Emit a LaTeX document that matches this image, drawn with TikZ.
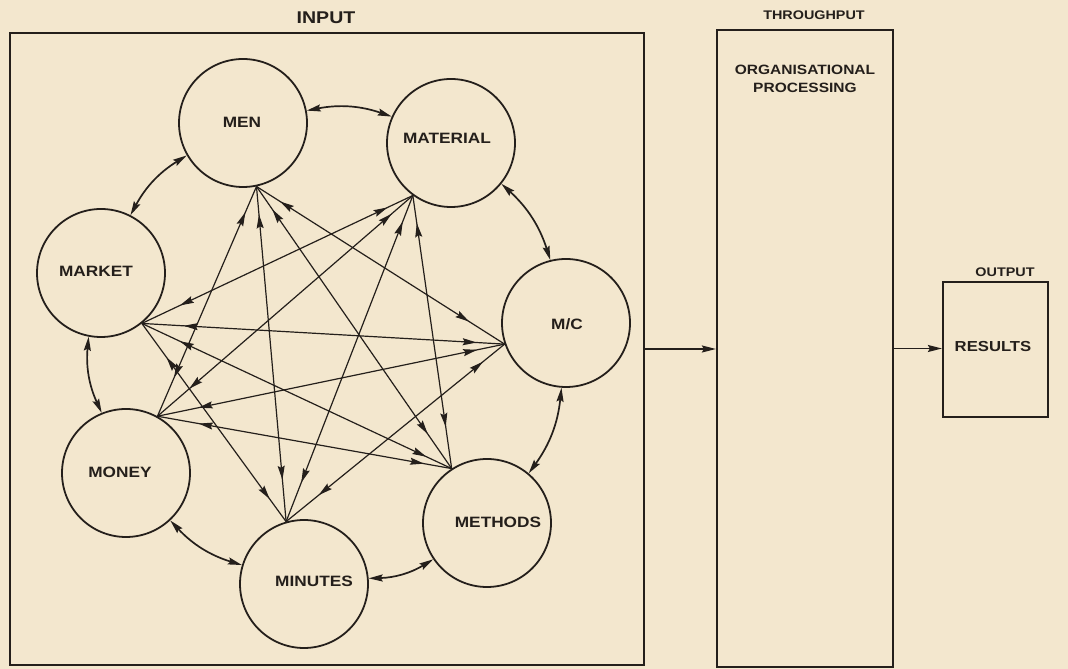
\documentclass[tikz,border=0pt]{standalone}
\usepackage{fontspec}
\newfontfamily\lett{Liberation Sans}[FakeStretch=1.15]
\usetikzlibrary{arrows.meta,decorations.markings}
\definecolor{paper}{RGB}{243,231,206}
\definecolor{ink}{RGB}{36,31,27}
\begin{document}
\begin{tikzpicture}[x=1pt,y=1pt,
  >={Stealth[length=14pt,width=7pt,inset=2pt]},
  circ/.style={circle,draw=ink,line width=1.8pt,minimum size=128pt,inner sep=0pt},
  lbl/.style={font=\lett\bfseries\fontsize{15}{16}\selectfont,text=ink,inner sep=0pt},
  hlbl/.style={font=\lett\bfseries\fontsize{17}{18}\selectfont,text=ink,inner sep=0pt},
  blbl/.style={font=\lett\bfseries\fontsize{12.5}{13}\selectfont,text=ink,inner sep=0pt},
  plbl/.style={font=\lett\bfseries\fontsize{13.5}{15}\selectfont,text=ink,inner sep=0pt},
  rlbl/.style={font=\lett\bfseries\fontsize{14.5}{15}\selectfont,text=ink,inner sep=0pt},
  box/.style={draw=ink,line width=2.2pt,inner sep=0pt},
  chord/.style={draw=ink,line width=1.2pt,postaction={decorate},
    decoration={markings,
      mark=at position 42pt with {\arrow{<}},
      mark=at position -42pt with {\arrow{>}}}},
  ring/.style={draw=ink,line width=1.7pt,<->,bend left=15},
  flow/.style={draw=ink,line width=1.7pt,->}
]
\fill[paper] (0,0) rectangle (1068,669);
\useasboundingbox (0,0) rectangle (1068,669);

% boxes
\node[box,minimum width=634pt,minimum height=632pt] (inbox) at (327,320) {};
\node[box,minimum width=176pt,minimum height=637pt] (thru) at (805,320.5) {};
\node[box,minimum width=105pt,minimum height=135pt] (res) at (995.5,319.5) {};

% box labels
\node[hlbl] (inL) at (326,651) {INPUT};
\node[blbl] (thL) at (814,654) {THROUGHPUT};
\node[plbl] (orgL) at (805,599) {ORGANISATIONAL};
\node[plbl] (procL) at (805,581) {PROCESSING};
\node[blbl] (outL) at (1005,397) {OUTPUT};
\node[rlbl] (resL) at (993,322) {RESULTS};

% circles
\node[circ] (men) at (243,546) {};
\node[lbl] (menL) at (242,547) {MEN};
\node[circ] (material) at (451,526) {};
\node[lbl] (materialL) at (447,531) {MATERIAL};
\node[circ] (market) at (101,396) {};
\node[lbl] (marketL) at (96,398) {MARKET};
\node[circ] (mc) at (566,346) {};
\node[lbl] (mcL) at (567,345) {M/C};
\node[circ] (money) at (126,196) {};
\node[lbl] (moneyL) at (120,197) {MONEY};
\node[circ] (methods) at (487,146) {};
\node[lbl] (methodsL) at (498,147) {METHODS};
\node[circ] (minutes) at (304,85) {};
\node[lbl] (minutesL) at (314,88) {MINUTES};

% hubs
\coordinate (hMen) at (men.282);
\coordinate (hMat) at (material.234);
\coordinate (hMc) at (mc.199.5);
\coordinate (hMeth) at (methods.123.5);
\coordinate (hMin) at (minutes.106);
\coordinate (hMon) at (money.61);
\coordinate (hMar) at (market.309);

% chords
\draw[chord] (hMen) -- (hMc);
\draw[chord] (hMen) -- (hMeth);
\draw[chord] (hMen) -- (hMin);
\draw[chord] (hMen) -- (hMon);
\draw[chord] (hMat) -- (hMeth);
\draw[chord] (hMat) -- (hMin);
\draw[chord] (hMat) -- (hMon);
\draw[chord] (hMat) -- (hMar);
\draw[chord] (hMc) -- (hMin);
\draw[chord] (hMc) -- (hMon);
\draw[chord] (hMc) -- (hMar);
\draw[chord] (hMeth) -- (hMon);
\draw[chord] (hMeth) -- (hMar);
\draw[chord] (hMin) -- (hMar);

% ring
\draw[ring] (men.11) to (material.156);
\draw[ring] (material.321) to (mc.104);
\draw[ring] (mc.266) to (methods.50);
\draw[ring] (methods.214) to (minutes.5);
\draw[ring] (minutes.163) to (money.313);
\draw[ring] (money.112) to (market.259);
\draw[ring] (market.63) to (men.210);

% flow
\draw[flow] (inbox.east) -- (inbox.east -| thru.west);
\draw[flow] (thru.east) -- (thru.east -| res.west);
\end{tikzpicture}
\end{document}
